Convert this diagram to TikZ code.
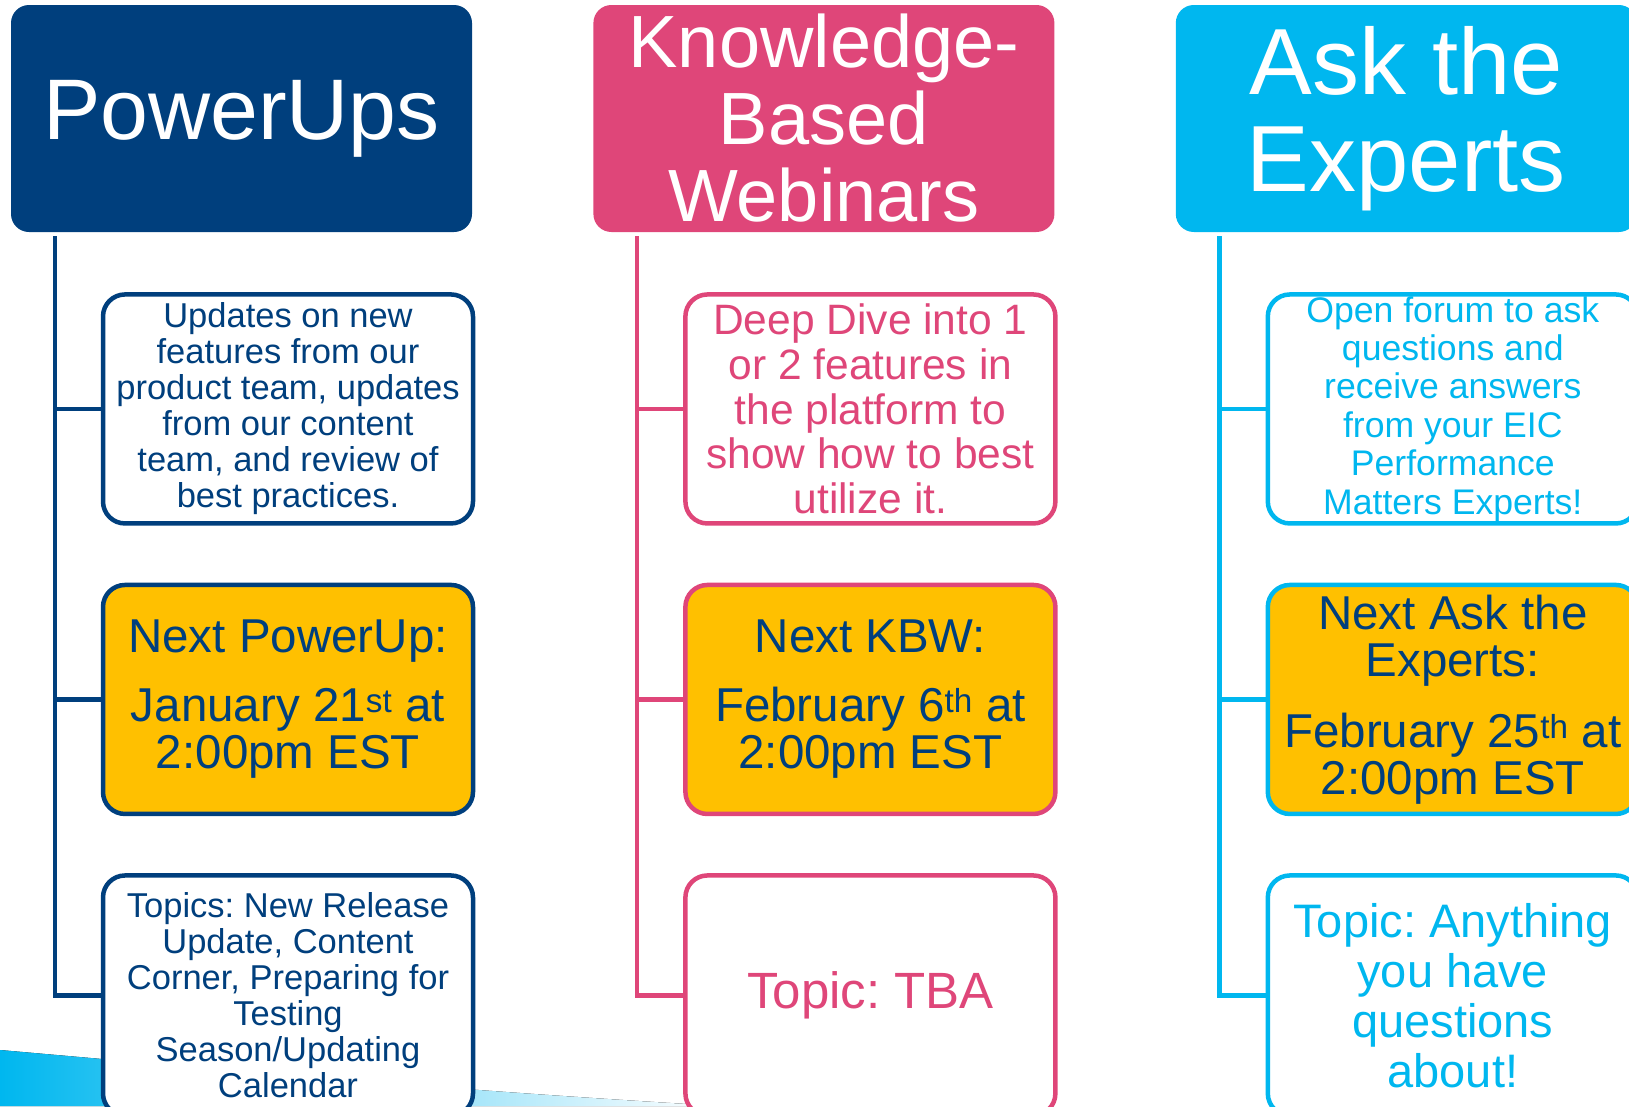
\documentclass[tikz,border=0pt]{standalone}
\usepackage{fontspec}
\setmainfont{Liberation Sans}
\usepackage{xcolor}
\usetikzlibrary{positioning}

\definecolor{puBlue}{HTML}{003F7D}
\definecolor{kbPink}{HTML}{DF4679}
\definecolor{aeCyan}{HTML}{00B7EF}
\definecolor{nextGold}{HTML}{FFC000}

\begin{document}
\frenchspacing
\begin{tikzpicture}[
    x=1pt, y=-1pt,
    head/.style={rectangle, rounded corners=18pt, minimum width=461pt, minimum height=227pt, inner sep=0pt, text=white, align=center},
    card/.style={rectangle, draw, line width=4.5pt, rounded corners=22pt, minimum width=370pt, minimum height=229pt, inner sep=0pt, align=center, fill=white},
    next/.style={card, fill=nextGold, text=puBlue, font=\fontsize{47.5}{47}\selectfont},
    topic/.style={card, minimum height=240pt},
    link/.style={line width=4.5pt}
]
    \useasboundingbox (0,0) rectangle (1629,1106);
    \fill[left color=aeCyan, middle color=aeCyan, right color=white] (0,1050) .. controls (250,1072) and (450,1090) .. (720,1106) -- (0,1106) -- cycle;

    \node[head, fill=puBlue, font=\fontsize{86}{90}\selectfont] (powerups) at (241.5,118.5) {PowerUps};
    \node[head, fill=kbPink, font=\fontsize{74}{77}\selectfont, right=121pt of powerups] (kbw) {Knowledge-\\Based\\Webinars};
    \node[head, fill=aeCyan, font=\fontsize{94}{97}\selectfont, right=121pt of kbw] (experts) {\raisebox{-6pt}{Ask the}\\\raisebox{-6pt}{Experts}};

    \node[card, draw=puBlue, text=puBlue, font=\fontsize{34.5}{36}\selectfont, below=60pt of powerups, xshift=46.5pt] (pu1) {Updates on new\\features from our\\product team, updates\\from our content\\team, and review of\\best practices.};
    \node[next, draw=puBlue, below=57pt of pu1] (pu2) {Next PowerUp:\\[22pt]January 21\textsuperscript{st} at\\2:00pm EST};
    \node[topic, draw=puBlue, text=puBlue, font=\fontsize{34.5}{36}\selectfont, below=57pt of pu2] (pu3) {Topics: New Release\\Update, Content\\Corner, Preparing for\\Testing\\Season/Updating\\Calendar};

    \node[card, draw=kbPink, text=kbPink, font=\fontsize{42.5}{44.7}\selectfont, below=60pt of kbw, xshift=46.5pt] (kb1) {Deep Dive into 1\\or 2 features in\\the platform to\\show how to best\\utilize it.};
    \node[next, draw=kbPink, below=57pt of kb1] (kb2) {Next KBW:\\[22pt]February 6\textsuperscript{th} at\\2:00pm EST};
    \node[topic, draw=kbPink, text=kbPink, font=\fontsize{51}{53}\selectfont, below=57pt of kb2] (kb3) {Topic: TBA};

    \node[card, draw=aeCyan, text=aeCyan, font=\fontsize{35.6}{38.4}\selectfont, below=60pt of experts, xshift=46.5pt] (ae1) {Open forum to ask\\questions and\\receive answers\\from your EIC\\Performance\\Matters Experts!};
    \node[next, draw=aeCyan, below=57pt of ae1] (ae2) {Next Ask the\\Experts:\\[24pt]February 25\textsuperscript{th} at\\2:00pm EST};
    \node[topic, draw=aeCyan, text=aeCyan, font=\fontsize{47}{50}\selectfont, below=57pt of ae2] (ae3) {Topic: Anything\\you have\\questions\\about!};

    \draw[link, puBlue] ([xshift=44pt,yshift=-4pt]powerups.south west) |- (pu3.west);
    \draw[link, puBlue] ([xshift=44pt,yshift=-4pt]powerups.south west) |- (pu1.west);
    \draw[link, puBlue] ([xshift=44pt,yshift=-4pt]powerups.south west) |- (pu2.west);
    \draw[link, kbPink] ([xshift=44pt,yshift=-4pt]kbw.south west) |- (kb3.west);
    \draw[link, kbPink] ([xshift=44pt,yshift=-4pt]kbw.south west) |- (kb1.west);
    \draw[link, kbPink] ([xshift=44pt,yshift=-4pt]kbw.south west) |- (kb2.west);
    \draw[link, aeCyan] ([xshift=44pt,yshift=-4pt]experts.south west) |- (ae3.west);
    \draw[link, aeCyan] ([xshift=44pt,yshift=-4pt]experts.south west) |- (ae1.west);
    \draw[link, aeCyan] ([xshift=44pt,yshift=-4pt]experts.south west) |- (ae2.west);
\end{tikzpicture}
\end{document}
